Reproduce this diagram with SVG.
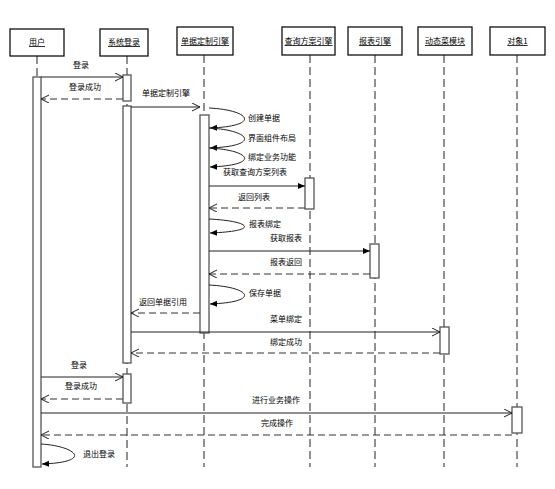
<svg xmlns="http://www.w3.org/2000/svg" width="555" height="489" viewBox="0 0 555 489">
<style>
text{font-family:"Noto Sans CJK SC","Noto Sans",sans-serif;font-size:8px;fill:#000}
.hd rect{fill:#fff;stroke:#111;stroke-width:1.3}
.hd text{text-anchor:middle;text-decoration:underline}
.life{stroke:#222;stroke-width:1;stroke-dasharray:8 4;fill:none}
.act{fill:#fff;stroke:#555;stroke-width:1.3}
.msg{stroke:#222;stroke-width:1;fill:none}
.ret{stroke:#333;stroke-width:1;fill:none;stroke-dasharray:7 4}
.lbl{text-anchor:middle}
.sl{text-anchor:start}
</style>
<defs>
<marker id="open" markerWidth="10" markerHeight="10" refX="8" refY="4" orient="auto" markerUnits="userSpaceOnUse">
<path d="M0,0 L8,4 L0,8" fill="none" stroke="#222" stroke-width="1"/>
</marker>
<marker id="fill" markerWidth="10" markerHeight="10" refX="7" refY="3" orient="auto" markerUnits="userSpaceOnUse">
<path d="M0,0 L7,3 L0,6 Z" fill="#000"/>
</marker>
</defs>
<g id="lifelines">
<line class="life" x1="37" y1="56" x2="37" y2="467"/>
<line class="life" x1="127" y1="56" x2="127" y2="467"/>
<line class="life" x1="204" y1="55" x2="204" y2="467"/>
<line class="life" x1="310" y1="55" x2="310" y2="467"/>
<line class="life" x1="375" y1="55" x2="375" y2="467"/>
<line class="life" x1="444" y1="55" x2="444" y2="467"/>
<line class="life" x1="517" y1="55" x2="517" y2="467"/>
</g>
<g id="n-user" class="hd"><rect x="10" y="29" width="54" height="27"/><text x="37" y="45">用户</text></g>
<g id="n-login" class="hd"><rect x="100" y="29" width="48" height="27"/><text x="124" y="45">系统登录</text></g>
<g id="n-engine" class="hd"><rect x="177" y="27" width="56" height="28"/><text x="205" y="44">单据定制引擎</text></g>
<g id="n-query" class="hd"><rect x="282" y="27" width="53" height="28"/><text x="308.5" y="44">查询方案引擎</text></g>
<g id="n-report" class="hd"><rect x="348" y="27" width="54" height="28"/><text x="375" y="44">报表引擎</text></g>
<g id="n-menu" class="hd"><rect x="418" y="27" width="54" height="28"/><text x="445" y="44">动态菜模块</text></g>
<g id="n-obj" class="hd"><rect x="490" y="27" width="55" height="28"/><text x="517.5" y="44">对象1</text></g>
<g id="activations">
<rect class="act" x="33" y="77" width="8" height="390"/>
<rect class="act" x="123" y="75" width="8" height="26"/>
<rect class="act" x="123" y="106" width="8" height="257"/>
<rect class="act" x="123" y="374" width="8" height="29"/>
<rect class="act" x="200" y="115" width="9" height="218"/>
<rect class="act" x="305" y="178" width="9" height="31"/>
<rect class="act" x="370" y="244" width="9" height="34"/>
<rect class="act" x="440" y="327" width="9" height="27"/>
<rect class="act" x="512" y="407" width="10" height="26"/>
</g>
<g id="connectors">
<line class="msg" x1="41" y1="77" x2="123" y2="77" marker-end="url(#open)"/>
<line class="ret" x1="123" y1="99" x2="41" y2="99" marker-end="url(#open)"/>
<line class="msg" x1="131" y1="107" x2="200" y2="107" marker-end="url(#open)"/>
<path class="msg" d="M209,108 C250,110 262,126 210,128" marker-end="url(#fill)"/>
<path class="msg" d="M209,128 C250,130 262,146 210,148" marker-end="url(#fill)"/>
<path class="msg" d="M209,148 C250,150 262,165 210,167" marker-end="url(#fill)"/>
<line class="msg" x1="209" y1="186" x2="305" y2="186" marker-end="url(#fill)"/>
<line class="ret" x1="305" y1="208" x2="209" y2="208" marker-end="url(#open)"/>
<path class="msg" d="M209,219 C250,221 262,231 210,233" marker-end="url(#fill)"/>
<line class="msg" x1="209" y1="251" x2="370" y2="251" marker-end="url(#fill)"/>
<line class="ret" x1="370" y1="274" x2="209" y2="274" marker-end="url(#open)"/>
<path class="msg" d="M209,285 C250,287 262,302 210,304" marker-end="url(#fill)"/>
<line class="ret" x1="200" y1="313" x2="131" y2="313" marker-end="url(#open)"/>
<line class="msg" x1="131" y1="332" x2="440" y2="332" marker-end="url(#open)"/>
<line class="ret" x1="440" y1="353" x2="131" y2="353" marker-end="url(#open)"/>
<line class="msg" x1="41" y1="377" x2="123" y2="377" marker-end="url(#open)"/>
<line class="ret" x1="123" y1="399" x2="41" y2="399" marker-end="url(#open)"/>
<line class="msg" x1="41" y1="413" x2="512" y2="413" marker-end="url(#open)"/>
<line class="ret" x1="512" y1="435" x2="41" y2="435" marker-end="url(#open)"/>
<path class="msg" d="M41,444 C75,446 95,462 42,464" marker-end="url(#fill)"/>
</g>
<g id="labels">
<text class="lbl" x="81" y="68">登录</text>
<text class="lbl" x="85" y="90">登录成功</text>
<text class="lbl" x="166" y="96">单据定制引擎</text>
<text class="sl" x="248" y="121">创建单据</text>
<text class="sl" x="248" y="141">界面组件布局</text>
<text class="sl" x="248" y="160">绑定业务功能</text>
<text class="lbl" x="255" y="175">获取查询方案列表</text>
<text class="lbl" x="254" y="200">返回列表</text>
<text class="sl" x="249" y="227">报表绑定</text>
<text class="lbl" x="286" y="241">获取报表</text>
<text class="lbl" x="286" y="265">报表返回</text>
<text class="sl" x="249" y="296">保存单据</text>
<text class="lbl" x="163" y="305">返回单据引用</text>
<text class="lbl" x="286" y="322">菜单绑定</text>
<text class="lbl" x="286" y="345">绑定成功</text>
<text class="lbl" x="79" y="368">登录</text>
<text class="lbl" x="81" y="389">登录成功</text>
<text class="lbl" x="276" y="403">进行业务操作</text>
<text class="lbl" x="277" y="426">完成操作</text>
<text class="sl" x="83" y="457">退出登录</text>
</g>
</svg>
